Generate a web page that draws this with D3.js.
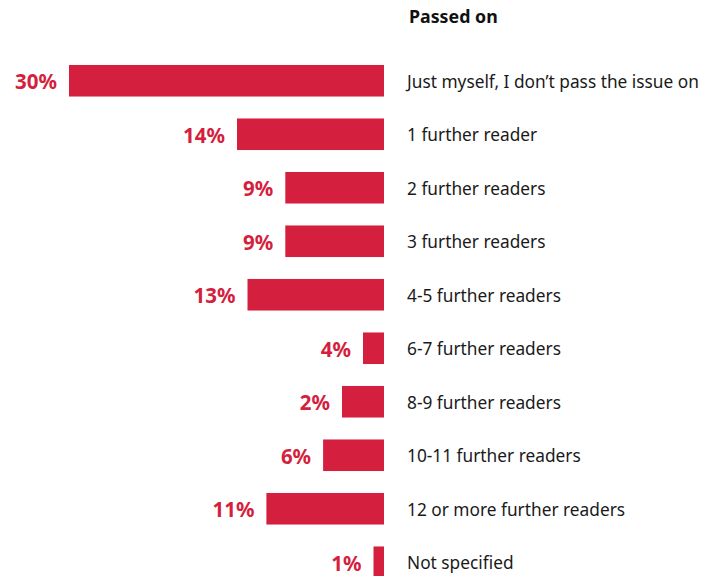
<!DOCTYPE html>
<html><head><meta charset="utf-8">
<script src="https://cdn.jsdelivr.net/npm/d3@7"></script>
<style>body{margin:0;background:#fff}</style>
</head><body>
<script>
const categories = ["Just myself, I don\u2019t pass the issue on","1 further reader","2 further readers","3 further readers","4-5 further readers","6-7 further readers","8-9 further readers","10-11 further readers","12 or more further readers","Not specified"];
const barValues = [30, 14, 9.4, 9.4, 13, 2, 4, 5.8, 11.2, 1];
const valueLabels = ["30%","14%","9%","9%","13%","4%","2%","6%","11%","1%"];
const title = "Passed on";

const W = 716, H = 576;
const svg = d3.select("body").append("svg").attr("width", W).attr("height", H);
const red = "#d41f3e";
const font = "'Noto Sans', 'Open Sans', sans-serif";

const x = d3.scaleLinear().domain([0, 30]).range([384, 69]);
const y = d3.scaleBand().domain(d3.range(categories.length)).range([65 - 11, 65 - 11 + 53.5 * 10]).paddingInner(0.41).paddingOuter(0.205);

svg.append("text").attr("x", 409).attr("y", 23).text(title)
  .attr("font-family", font).attr("font-weight", "bold").attr("font-size", 17.8).attr("fill", "#111");

const g = svg.selectAll("g.row").data(categories).join("g").attr("class", "row");
g.append("rect")
  .attr("x", (d, i) => x(barValues[i]))
  .attr("y", (d, i) => y(i))
  .attr("width", (d, i) => x(0) - x(barValues[i]))
  .attr("height", y.bandwidth())
  .attr("fill", red);
g.append("text")
  .attr("x", (d, i) => x(barValues[i]) - 12)
  .attr("y", (d, i) => y(i) + y.bandwidth() / 2 + 1)
  .attr("dy", "0.36em")
  .attr("text-anchor", "end")
  .attr("font-family", font).attr("font-weight", "bold").attr("font-size", 20.5)
  .attr("fill", red)
  .text((d, i) => valueLabels[i]);
g.append("text")
  .attr("x", 407)
  .attr("y", (d, i) => y(i) + y.bandwidth() / 2 + 1)
  .attr("dy", "0.35em")
  .attr("font-family", font).attr("font-size", 17.3)
  .attr("fill", "#1a1a1a")
  .text(d => d);
</script>
</body></html>
